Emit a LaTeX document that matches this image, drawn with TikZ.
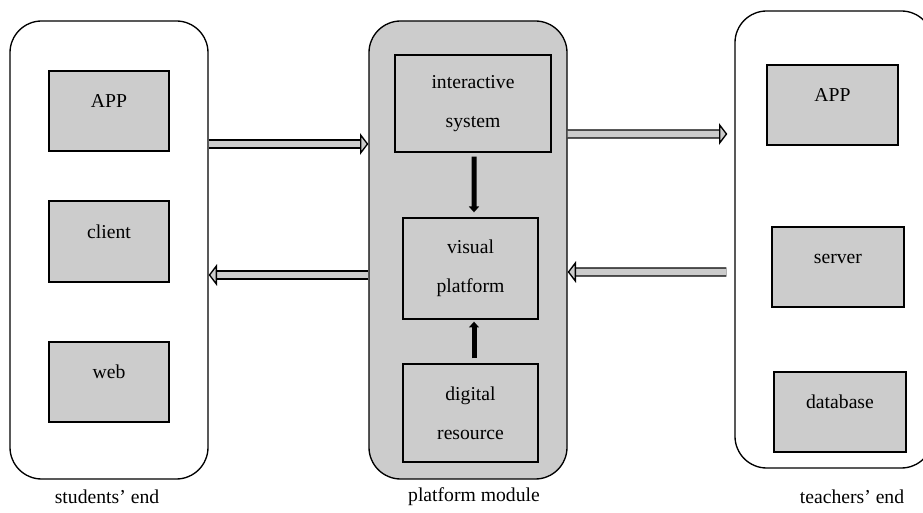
\documentclass[tikz,border=0pt]{standalone}
\usepackage{fontspec}
\setmainfont{Liberation Serif}
\usetikzlibrary{positioning}
\usetikzlibrary{arrows.meta}

\tikzset{
  panel/.style={draw, line width=0.8pt, rounded corners=19pt, minimum width=118.8pt, minimum height=274.8pt},
  part/.style={draw, line width=0.8pt, fill=gray!40, align=center, inner sep=0pt},
  oneline/.style={text height=8pt, text depth=12pt},
  flow/.style={draw=black, line width=0.8pt, double=gray!40, double distance=4pt,
    -{Triangle[open, fill=gray!40, length=5pt, width=13pt]}},
  link/.style={line width=3pt, -{Triangle[length=3.5pt, width=6pt]}}
}

\begin{document}
\begin{tikzpicture}[x=0.6pt, y=-0.6pt, font=\fontsize{11.8pt}{23.4pt}\selectfont]
  \useasboundingbox (0,0) rectangle (923,513);
  \clip (0,0) rectangle (923,513);

  % the three ends
  \node[panel] (students) at (109,250) {};
  \node[panel, fill=gray!40] (platform) at (468,250) {};
  \node[panel, minimum height=274.2pt] (teachers) at (834,239.5) {};

  % students' side
  \node[part, oneline, minimum width=72pt, minimum height=48pt] (sapp) at (109,111) {APP};
  \node[part, oneline, minimum width=72pt, minimum height=48.6pt] (sclient) at (109,241.5) {client};
  \node[part, oneline, minimum width=72pt, minimum height=48pt] (sweb) at (109,382) {web};

  % platform module
  \node[part, minimum width=93.6pt, minimum height=58.2pt] (interactive) at (473,103.5) {interactive\\system};
  \node[part, minimum width=81pt, minimum height=60.6pt] (visual) at (470.5,268.5) {visual\\platform};
  \node[part, minimum width=81pt, minimum height=58.8pt] (digital) at (470.5,413) {digital\\resource};

  % teachers' side
  \node[part, oneline, minimum width=78.6pt, minimum height=48pt] (tapp) at (832.5,105) {APP};
  \node[part, oneline, minimum width=79.2pt, minimum height=48pt] (tserver) at (838,267) {server};
  \node[part, oneline, minimum width=79.2pt, minimum height=48pt] (tdb) at (840,412) {database};

  % captions
  \node (studentslabel) at (107,497) {students' end};
  \node (platformlabel) at (474,497) {platform module};
  \node (teacherslabel) at (852,497) {teachers' end};

  % flows between the ends
  \draw[flow] ([yshift=63.6pt]students.east) -- ([yshift=63.6pt]platform.west);
  \draw[flow] ([yshift=-15pt]platform.west) -- ([yshift=-15pt]students.east);
  \draw[flow, shorten >=4.2pt] ([yshift=69.6pt]platform.east) -- ([yshift=63.3pt]teachers.west);
  \draw[flow, shorten <=4.8pt] ([yshift=-19.5pt]teachers.west) -- ([yshift=-13.2pt]platform.east);

  % inside the platform
  \draw[link, shorten <=2.4pt, shorten >=3pt] ([xshift=0.6pt]interactive.south) -- ([xshift=2.1pt]visual.north);
  \draw[link, shorten <=3pt, shorten >=1.2pt] ([xshift=2.1pt]digital.north) -- ([xshift=2.1pt]visual.south);
\end{tikzpicture}
\end{document}
